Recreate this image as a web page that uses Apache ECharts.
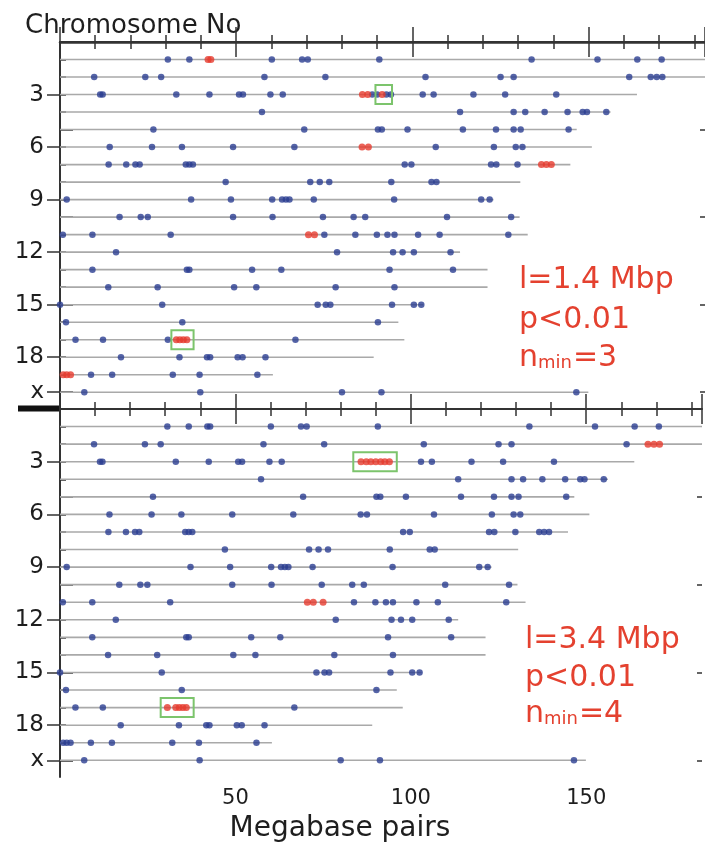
<!DOCTYPE html>
<html><head><meta charset="utf-8">
<script src="https://cdn.jsdelivr.net/npm/echarts@6/dist/echarts.min.js"></script>
<style>html,body{margin:0;padding:0;background:#fff}#c{width:705px;height:845px}</style>
</head><body><div id="c"></div>
<script>
// ---- data ----
const chromosomes = ['1','2','3','4','5','6','7','8','9','10','11','12','13','14','15','16','17','18','19','x'];
const chromLengths = [197, 183, 163.7, 156.2, 146.6, 150.9, 144.8, 130.6, 123.0, 130.4, 132.7, 113.5, 121.3, 121.3, 103.1, 96.0, 97.7, 89.0, 60.4, 149.9];
// marker positions (Mbp) on each chromosome, rows 1..19, x
const loci = [
  [30.6, 36.7, 42.0, 42.8, 60.1, 68.7, 70.3, 90.6, 133.8, 152.5, 163.8, 170.7],
  [9.7, 24.2, 28.7, 58.0, 75.3, 103.7, 125.0, 128.7, 161.5, 167.6, 169.3, 170.9],
  [11.4, 12.1, 33.0, 42.4, 50.8, 51.9, 59.7, 63.2, 85.8, 87.3, 88.6, 90.0, 91.4, 92.6, 93.9, 102.9, 106.0, 117.3, 126.3, 140.8],
  [57.3, 113.5, 128.7, 132.0, 137.5, 144.0, 148.3, 149.5, 155.0],
  [26.5, 69.3, 90.2, 91.3, 98.6, 114.3, 123.7, 128.7, 130.7, 144.3],
  [14.1, 26.1, 34.6, 49.1, 66.5, 85.7, 87.5, 106.6, 123.1, 129.3, 131.2],
  [13.8, 18.8, 21.4, 22.6, 35.7, 36.7, 37.7, 97.8, 99.7, 122.3, 123.8, 129.8, 136.6, 138.0, 139.4],
  [47.0, 71.0, 73.7, 76.4, 94.0, 105.4, 106.8],
  [1.9, 37.2, 48.5, 60.2, 63.0, 64.1, 65.1, 72.0, 94.8, 119.5, 121.9],
  [16.9, 22.9, 24.9, 49.1, 60.3, 74.6, 83.3, 86.6, 109.8, 128.0],
  [0.8, 9.2, 31.4, 70.5, 72.2, 75.0, 83.8, 89.9, 92.9, 94.9, 101.6, 107.7, 127.2],
  [15.9, 78.6, 94.5, 97.2, 100.4, 110.8],
  [9.2, 36.0, 36.7, 54.5, 62.8, 93.5, 111.5],
  [13.7, 27.7, 49.4, 55.7, 78.2, 94.9],
  [0.0, 29.0, 73.1, 75.4, 76.7, 94.2, 100.4, 102.5],
  [1.7, 34.7, 90.2],
  [4.4, 12.2, 30.6, 33.0, 34.0, 35.0, 36.0, 66.8],
  [17.3, 33.9, 41.7, 42.6, 50.4, 51.8, 58.3],
  [0.9, 1.9, 3.0, 8.8, 14.8, 32.0, 39.6, 56.0],
  [6.9, 39.8, 80.0, 91.2, 146.5]
];
// significant clusters [row, fromMbp, toMbp] -> drawn red
const clustersTop = [[1, 41.5, 43.2], [3, 85.5, 87.6], [3, 91.0, 92.0], [6, 85.0, 88.0], [7, 136.0, 140.0], [11, 70.0, 72.5], [17, 32.5, 36.5], [19, 0.5, 3.5]];
const clustersBottom = [[2, 167.0, 171.5], [3, 85.5, 94.5], [11, 70.0, 75.5], [17, 30.0, 36.5]];
// green boxes [fromMbp, toMbp, row]
const boxesTop = [[89.5, 94.2, 3], [31.6, 37.9, 17]];
const boxesBottom = [[83.6, 96.0, 3], [28.7, 38.1, 17]];
const xTickLabels = [50, 100, 150];
const yLabelRows = [3, 6, 9, 12, 15, 18, 20];
const annotTop = ['l=1.4 Mbp', 'p<0.01', '3'];
const annotBottom = ['l=3.4 Mbp', 'p<0.01', '4'];

// ---- style ----
const X_MAX = 183;
const FONT = '"DejaVu Sans", sans-serif';
const AXIS = '#333333', TEXT = '#1e1e1e';
const BLUE = '#2b3d91', RED = '#e63b2e', GREEN = '#7cc46c', GREY = '#a9a9a9', ANN = '#e4412f';

function inClusters(clusters, row, pos) {
  return clusters.some(c => c[0] === row && pos >= c[1] && pos <= c[2]);
}
function pointsFor(clusters, red) {
  const out = [];
  loci.forEach((arr, i) => arr.forEach(p => {
    if (inClusters(clusters, i + 1, p) === red) out.push([p, i + 1]);
  }));
  return out;
}
const lineData = chromLengths.map((len, i) => [len, i + 1]);
const allRows = chromosomes.map((c, i) => i + 1);

const grids = [
  { left: 60, right: 0, top: 42, height: 366, ymax: 20.9 },
  { left: 60, right: 0, top: 409, height: 368, ymax: 20.95 }
];

const xAxis = [], yAxis = [], series = [];
grids.forEach((g, gi) => {
  const tickStyle = { color: AXIS, width: 1.5 };
  ['top', 'bottom'].forEach(pos => {
    const showLine = !(gi === 1 && pos === 'top');
    xAxis.push({
      gridIndex: gi, type: 'value', position: pos, min: 0, max: X_MAX, interval: 50,
      axisLine: { show: showLine, lineStyle: { color: AXIS, width: pos === 'bottom' && gi === 0 ? 2.5 : 2 } },
      axisTick: { show: true, inside: true, length: 15, lineStyle: tickStyle },
      minorTick: { show: true, splitNumber: 5, length: 7, lineStyle: tickStyle },
      splitLine: { show: false },
      axisLabel: {
        show: gi === 1 && pos === 'bottom', fontFamily: FONT, fontSize: 21, color: TEXT, margin: 11,
        formatter: v => xTickLabels.includes(v) ? String(v) : ''
      }
    });
  });
  const yBase = { gridIndex: gi, type: 'value', inverse: true, min: 0, max: g.ymax, splitLine: { show: false } };
  yAxis.push(Object.assign({}, yBase, {
    position: 'left',
    axisLine: { show: true, lineStyle: { color: AXIS, width: 2 } },
    axisTick: { show: true, inside: false, length: 13, customValues: yLabelRows, lineStyle: tickStyle },
    axisLabel: {
      show: true, customValues: yLabelRows, fontFamily: FONT, fontSize: 23, color: TEXT, margin: 16,
      formatter: v => chromosomes[v - 1]
    }
  }));
  yAxis.push(Object.assign({}, yBase, {
    position: 'left', axisLine: { show: false },
    axisTick: { show: true, inside: true, length: 6, customValues: allRows, lineStyle: tickStyle },
    axisLabel: { show: false }
  }));
  yAxis.push(Object.assign({}, yBase, {
    position: 'left', axisLine: { show: false },
    axisTick: { show: true, inside: true, length: 13, customValues: [5, 10, 15, 20], lineStyle: tickStyle },
    axisLabel: { show: false }
  }));
  yAxis.push(Object.assign({}, yBase, {
    position: 'right', axisLine: { show: false },
    axisTick: { show: true, inside: true, length: 5, customValues: [5, 10, 15, 20], lineStyle: tickStyle },
    axisLabel: { show: false }
  }));

  const xi = gi * 2 + 1, yi = gi * 4;
  const clusters = gi === 0 ? clustersTop : clustersBottom;
  const boxes = gi === 0 ? boxesTop : boxesBottom;
  series.push({
    type: 'custom', xAxisIndex: xi, yAxisIndex: yi, data: lineData, silent: true, z: 1,
    encode: { x: 0, y: 1 },
    renderItem: (params, api) => {
      const row = api.value(1);
      const a = api.coord([0, row]);
      const b = api.coord([Math.min(api.value(0), X_MAX), row]);
      return { type: 'line', shape: { x1: a[0], y1: a[1], x2: b[0], y2: b[1] },
        style: { stroke: GREY, lineWidth: 1.6 } };
    }
  });
  series.push({
    type: 'scatter', xAxisIndex: xi, yAxisIndex: yi, data: pointsFor(clusters, false),
    symbol: 'circle', symbolSize: 6.5, itemStyle: { color: BLUE }, z: 3, silent: true
  });
  series.push({
    type: 'scatter', xAxisIndex: xi, yAxisIndex: yi, data: pointsFor(clusters, true),
    symbol: 'circle', symbolSize: 7, itemStyle: { color: RED }, z: 4, silent: true
  });
  series.push({
    type: 'custom', xAxisIndex: xi, yAxisIndex: yi, data: boxes, silent: true, z: 5,
    encode: { x: [0, 1], y: 2 },
    renderItem: (params, api) => {
      const a = api.coord([api.value(0), api.value(2)]);
      const b = api.coord([api.value(1), api.value(2)]);
      return { type: 'rect', shape: { x: a[0], y: a[1] - 9.5, width: b[0] - a[0], height: 19 },
        style: { fill: 'none', stroke: GREEN, lineWidth: 2 } };
    }
  });
});

function annot(lines, x, ys) {
  return [
    { type: 'text', x: x, y: ys[0], style: { text: lines[0], font: '30px ' + FONT, fill: ANN, verticalAlign: 'middle' } },
    { type: 'text', x: x, y: ys[1], style: { text: lines[1], font: '30px ' + FONT, fill: ANN, verticalAlign: 'middle' } },
    { type: 'text', x: x, y: ys[2], style: {
      text: '{n|n}{s|min}{n|=' + lines[2] + '}', verticalAlign: 'middle', fill: ANN,
      rich: {
        n: { fontFamily: FONT, fontSize: 30, color: ANN, verticalAlign: 'bottom' },
        s: { fontFamily: FONT, fontSize: 18, color: ANN, verticalAlign: 'bottom', padding: [0, 1, 1, 0] }
      } } }
  ];
}

const chart = echarts.init(document.getElementById('c'), null, { renderer: 'canvas' });
chart.setOption({
  animation: false,
  backgroundColor: '#ffffff',
  grid: grids.map(g => ({ left: g.left, right: g.right, top: g.top, height: g.height })),
  xAxis: xAxis,
  yAxis: yAxis,
  series: series,
  graphic: [
    { type: 'text', x: 25, y: 26, style: { text: 'Chromosome No', font: '26px ' + FONT, fill: TEXT, verticalAlign: 'middle' } },
    { type: 'text', x: 340, y: 829, style: { text: 'Megabase pairs', font: '28px ' + FONT, fill: TEXT, align: 'center', verticalAlign: 'middle' } },
    { type: 'rect', shape: { x: 18, y: 405.5, width: 42, height: 6 }, style: { fill: '#111' } }
  ].concat(annot(annotTop, 519, [280.5, 320.5, 358.5]), annot(annotBottom, 525, [640, 678.5, 714.5]))
});
</script></body></html>
